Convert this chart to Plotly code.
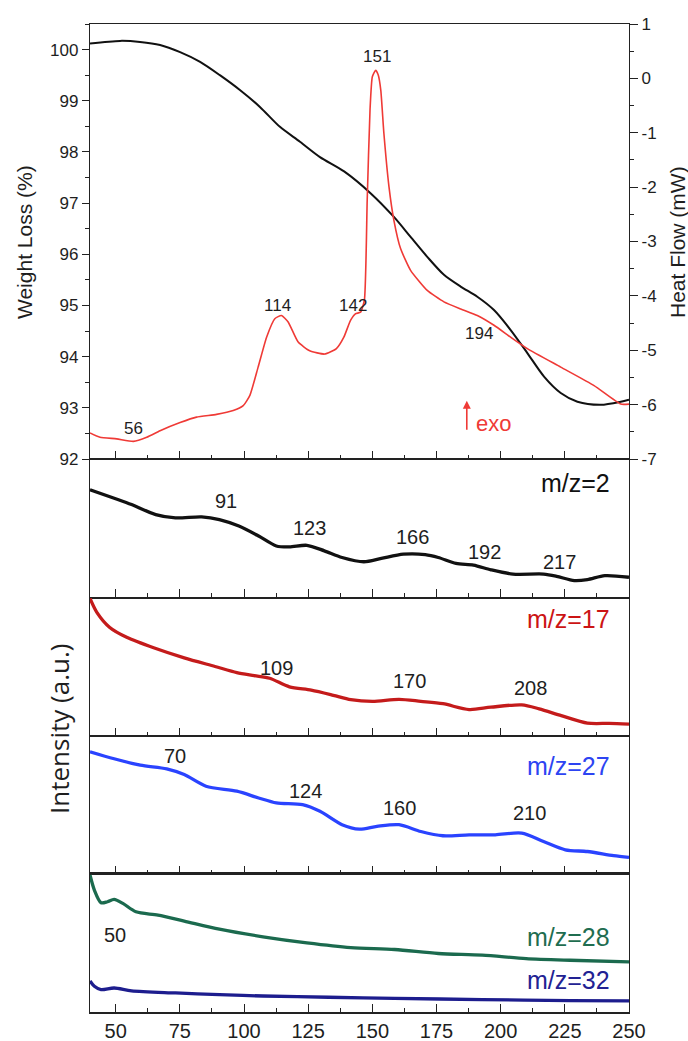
import plotly.graph_objects as go

# ---------------- TG / DSC (top panel) ----------------
tg_T = [40, 51.7, 59.5, 67.3, 75.1, 82.9, 90.6, 98.4, 106.2, 114, 121.8, 129.6, 139,
        149.4, 158.4, 164.9, 171.4, 177.9, 184.4, 190.9, 197.4, 203.9, 210.4, 216.9,
        223.4, 229.9, 239, 246.8, 250]
tg_W = [100.12, 100.17, 100.15, 100.09, 99.95, 99.76, 99.5, 99.21, 98.88, 98.49, 98.2,
        97.9, 97.62, 97.19, 96.73, 96.34, 95.95, 95.6, 95.37, 95.17, 94.91, 94.52, 94.07,
        93.61, 93.29, 93.12, 93.06, 93.12, 93.16]

dsc_T = [40, 43.9, 50.4, 56.9, 62.1, 67.3, 75.1, 81.5, 89.3, 95.8, 99.7, 102.3, 105.5,
         108.8, 112, 114.6, 117.2, 121.1, 125.6, 131.4, 136, 138.9, 141.5, 143.4, 145.4,
         146.9, 148, 149.1, 150, 151.3, 152.3, 153.3, 154.5, 156.5, 158.4, 161, 164.9,
         171.4, 177.9, 184.4, 190.9, 197.4, 203.9, 210.4, 223.4, 236.4, 246.8, 250]
dsc_H = [-6.52, -6.60, -6.63, -6.675, -6.60, -6.48, -6.33, -6.23, -6.18, -6.11, -6.02,
         -5.83, -5.31, -4.76, -4.42, -4.36, -4.48, -4.85, -5.01, -5.07, -4.97, -4.76,
         -4.45, -4.33, -4.30, -4.08, -2.24, -0.58, 0.03, 0.15, 0.06, -0.22, -1.01, -2.0,
         -2.61, -3.13, -3.53, -3.90, -4.11, -4.24, -4.36, -4.54, -4.76, -4.97, -5.31,
         -5.65, -5.99, -5.99]

# peak labels on the DSC curve: (text, temperature, heat flow)
dsc_labels = [("56", 56.9, -6.44), ("114", 113.1, -4.17), ("142", 142.5, -4.17),
              ("151", 151.7, 0.40), ("194", 191.6, -4.70)]

hf_ticks = [1, 0, -1, -2, -3, -4, -5, -6, -7]
hf_ticktext = ["1", "0", "-1", "-2", "-3", "-4", "-5", "-6", "-7"]

# ---------------- MS ion currents (a.u.) ----------------
ms2_T = [40, 51.1, 56.2, 65.6, 73.3, 83.5, 90.4, 98, 105.7, 112.6, 117.7, 124.5, 131.3,
         138.2, 146.7, 153.5, 162.1, 170.6, 175.7, 182.6, 189.4, 196.2, 204.8, 216.7,
         221.8, 228.7, 233.8, 240.6, 250]
ms2_I = [0.778, 0.706, 0.671, 0.599, 0.575, 0.582, 0.563, 0.516, 0.444, 0.372, 0.365,
         0.377, 0.337, 0.289, 0.258, 0.282, 0.313, 0.310, 0.289, 0.246, 0.234, 0.200,
         0.169, 0.169, 0.153, 0.122, 0.129, 0.158, 0.146]
ms2_labels = [("91", 93, 0.695), ("123", 125.4, 0.504), ("166", 165.5, 0.439),
              ("192", 193.7, 0.325), ("217", 223, 0.253)]

ms17_T = [40, 42.6, 47.7, 54.5, 64.8, 76.7, 88.7, 97.2, 104, 110, 117.7, 126.2, 134.8,
          141.6, 150.1, 160.4, 168.9, 177.5, 187.7, 196.2, 208.2, 215, 223.6, 233.8,
          242.3, 250]
ms17_I = [0.993, 0.895, 0.784, 0.711, 0.637, 0.564, 0.502, 0.458, 0.436, 0.417, 0.355,
          0.331, 0.294, 0.262, 0.25, 0.265, 0.25, 0.233, 0.191, 0.208, 0.225, 0.196,
          0.147, 0.093, 0.091, 0.086]
ms17_labels = [("109", 112.6, 0.49), ("170", 164.6, 0.397), ("208", 211.6, 0.35)]

ms27_T = [40, 49.4, 59.6, 69.9, 76.7, 85.2, 97.2, 105.7, 112.6, 122.8, 129.6, 138.2,
          145, 151.8, 160.4, 168.9, 177.5, 187.7, 197.9, 208.2, 216.7, 225.2, 233.8,
          244, 250]
ms27_I = [0.886, 0.835, 0.789, 0.762, 0.721, 0.636, 0.6, 0.551, 0.515, 0.502, 0.454,
          0.357, 0.325, 0.345, 0.357, 0.308, 0.277, 0.284, 0.284, 0.296, 0.235, 0.175,
          0.163, 0.133, 0.121]
ms27_labels = [("70", 73.3, 0.854), ("124", 124, 0.6), ("160", 160.4, 0.478),
               ("210", 211.2, 0.442)]

ms28_T = [40, 41.7, 44.3, 46.8, 49.4, 52.8, 57.9, 66.5, 76.7, 90.4, 107.4, 124.5, 141.6,
          158.7, 175.7, 192.8, 209.9, 227, 250]
ms28_I = [0.993, 0.884, 0.792, 0.799, 0.816, 0.787, 0.726, 0.702, 0.659, 0.6, 0.545,
          0.501, 0.467, 0.453, 0.424, 0.412, 0.387, 0.375, 0.363]

ms32_T = [40, 41.7, 44.3, 49.4, 56.2, 73.3, 90.4, 107.4, 133, 158.7, 192.8, 227, 250]
ms32_I = [0.225, 0.186, 0.162, 0.174, 0.153, 0.138, 0.126, 0.116, 0.107, 0.099, 0.09,
          0.082, 0.08]
ms28_labels = [("50", 49.7, 0.557)]

x_ticks = [50, 75, 100, 125, 150, 175, 200, 225, 250]

# ---------------- styling ----------------
FONT = "Liberation Sans, Arial, sans-serif"
AX = "#222222"
TXT = "#1e1e1e"
RED = "#ef3a36"
W, H = 688, 1041
ML, MR, MT, MB = 90, 59, 24, 29
plot_h = H - MT - MB
plot_w = W - ML - MR


def py(p):
    """pixel row -> paper y"""
    return (H - MB - p) / plot_h


def px(p):
    """pixel column -> paper x"""
    return (p - ML) / plot_w


borders = [24, 459, 597.5, 736, 874, 1012]
domains = [[py(borders[i + 1]), py(borders[i])] for i in range(5)]

fig = go.Figure()

fig.add_trace(go.Scatter(x=tg_T, y=tg_W, mode="lines",
                         line=dict(color="#111111", width=2, shape="spline", smoothing=0.8),
                         xaxis="x", yaxis="y", showlegend=False))
fig.add_trace(go.Scatter(x=dsc_T, y=dsc_H, mode="lines",
                         line=dict(color=RED, width=1.6, shape="spline", smoothing=0.5),
                         xaxis="x", yaxis="y2", showlegend=False))

ms_series = [
    (ms2_T, ms2_I, "#111111", "x2", "y3"),
    (ms17_T, ms17_I, "#c41b1b", "x3", "y4"),
    (ms27_T, ms27_I, "#2a43ff", "x4", "y5"),
    (ms28_T, ms28_I, "#1b6a4e", "x5", "y6"),
    (ms32_T, ms32_I, "#1d1d8e", "x5", "y6"),
]
for t, v, c, xa, ya in ms_series:
    fig.add_trace(go.Scatter(x=t, y=v, mode="lines",
                             line=dict(color=c, width=3.3, shape="spline", smoothing=0.8),
                             xaxis=xa, yaxis=ya, showlegend=False))

ann = []
for txt, xv, yv in dsc_labels:
    ann.append(dict(x=xv, y=yv, xref="x", yref="y2", text=txt, showarrow=False,
                    font=dict(family=FONT, size=17, color=TXT)))

for labels, xa, ya in [(ms2_labels, "x2", "y3"), (ms17_labels, "x3", "y4"),
                       (ms27_labels, "x4", "y5"), (ms28_labels, "x5", "y6")]:
    for txt, xv, yv in labels:
        ann.append(dict(x=xv, y=yv, xref=xa, yref=ya, text=txt, showarrow=False,
                        font=dict(family=FONT, size=20, color=TXT)))

# channel names
for txt, xa, ya, yv, col in [("m/z=2", "x2", "y3", 0.826, "#111111"),
                             ("m/z=17", "x3", "y4", 0.846, "#cc1414"),
                             ("m/z=27", "x4", "y5", 0.782, "#2d44f2"),
                             ("m/z=28", "x5", "y6", 0.54, "#1f6d50"),
                             ("m/z=32", "x5", "y6", 0.23, "#222293")]:
    ann.append(dict(x=243.5, y=yv, xref=xa, yref=ya, text=txt, showarrow=False, xanchor="right",
                    font=dict(family=FONT, size=25, color=col)))

# exothermic direction marker
ann.append(dict(x=186.8, y=-5.93, xref="x", yref="y2", ax=186.8, ay=-6.49, axref="x", ayref="y2",
                text="", showarrow=True, arrowhead=2, arrowsize=1, arrowwidth=1.6, arrowcolor=RED))
ann.append(dict(x=189.5, y=-6.34, xref="x", yref="y2", text="exo", showarrow=False, xanchor="left",
                font=dict(family=FONT, size=22, color=RED)))

# axis titles
for txt, cx, cy, fam, size in [("Weight Loss (%)", 24, 242, FONT, 21),
                               ("Heat Flow (mW)", 677, 242, FONT, 21),
                               ("Intensity (a.u.)", 59, 729, "Open Sans, sans-serif", 26)]:
    ann.append(dict(x=px(cx), y=py(cy), xref="paper", yref="paper", text=txt, textangle=-90,
                    xanchor="center", yanchor="middle", showarrow=False,
                    font=dict(family=fam, size=size, color=TXT)))


def xaxis(anchor, labels):
    return dict(domain=[0, 1], range=[40, 250], anchor=anchor, showgrid=False, zeroline=False,
                showline=True, linecolor=AX, linewidth=2 if labels else 1.4, mirror=True,
                ticks="inside", ticklen=8, tickwidth=1.4, tickcolor=AX,
                tickvals=x_ticks, showticklabels=labels, automargin=False,
                tickfont=dict(family=FONT, size=20, color=TXT),
                minor=dict(ticks="inside", ticklen=4, tickwidth=1.2, tickcolor=AX, dtick=12.5, tick0=0),
                matches=None if anchor == "y" else "x")


def msyaxis(dom, anchor):
    return dict(domain=dom, range=[0, 1], anchor=anchor, showgrid=False, zeroline=False,
                showline=True, linecolor=AX, linewidth=1.4, mirror=True,
                ticks="", showticklabels=False, automargin=False)


fig.update_layout(
    width=W, height=H, margin=dict(l=ML, r=MR, t=MT, b=MB, autoexpand=False),
    plot_bgcolor="white", paper_bgcolor="white", showlegend=False,
    annotations=ann,
    xaxis=xaxis("y", False),
    xaxis2=xaxis("y3", False),
    xaxis3=xaxis("y4", False),
    xaxis4=xaxis("y5", False),
    xaxis5=xaxis("y6", True),
    yaxis=dict(domain=domains[0], range=[92, 100.5], anchor="x", showgrid=False, zeroline=False,
               showline=True, linecolor=AX, linewidth=1.4, mirror=True, automargin=False,
               ticks="outside", ticklen=7, tickwidth=1.4, tickcolor=AX, dtick=1, tick0=92,
               tickfont=dict(family=FONT, size=17, color=TXT),
               minor=dict(ticks="outside", ticklen=4, tickwidth=1.2, tickcolor=AX, dtick=0.5, tick0=92)),
    yaxis2=dict(range=[-7, 1], overlaying="y", side="right", anchor="x", showgrid=False, zeroline=False,
                showline=True, linecolor=AX, linewidth=1.4, automargin=False,
                ticks="outside", ticklen=8, tickwidth=1.4, tickcolor=AX,
                tickvals=hf_ticks, ticktext=hf_ticktext,
                tickfont=dict(family=FONT, size=17, color=TXT),
                minor=dict(ticks="outside", ticklen=4, tickwidth=1.2, tickcolor=AX, dtick=0.5, tick0=-7)),
    yaxis3=msyaxis(domains[1], "x2"),
    yaxis4=msyaxis(domains[2], "x3"),
    yaxis5=msyaxis(domains[3], "x4"),
    yaxis6=msyaxis(domains[4], "x5"),
)
fig.write_html("out.html")
